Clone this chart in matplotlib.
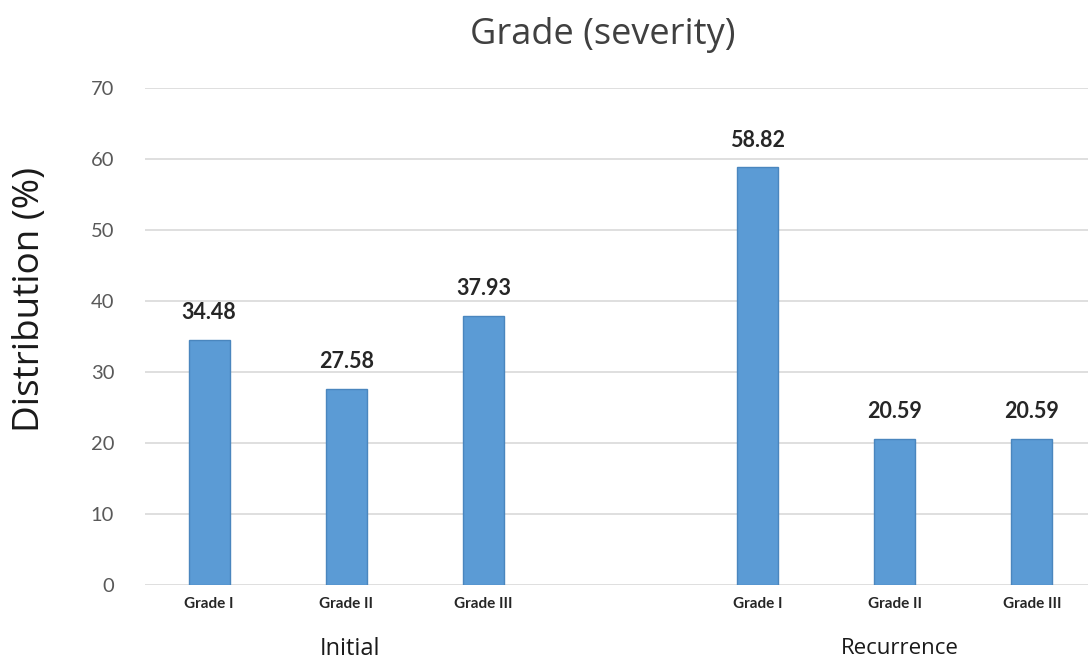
import matplotlib.pyplot as plt
from matplotlib.transforms import blended_transform_factory

# =====================================================
# Data
# =====================================================

groups = ["Initial", "Recurrence"]

grades = ["Grade I", "Grade II", "Grade III"]

initial_values = [34.48, 27.58, 37.93]

recurrence_values = [58.82, 20.59, 20.59]

# =====================================================
# Layout
# =====================================================

plt.rcParams["font.family"] = ["Lato", "DejaVu Sans"]

label_font = ["Open Sans", "DejaVu Sans"]

fig = plt.figure(figsize=(10.88, 6.61), dpi=100)

ax = fig.add_axes([0.133, 0.115, 0.867, 0.752])

bar_color = "#5B9BD5"
edge_color = "#4A86BE"

# one empty slot between the two groups
initial_x = [0, 1, 2]
recurrence_x = [4, 5, 6]

positions = initial_x + recurrence_x
values = initial_values + recurrence_values

bars = ax.bar(
    positions,
    values,
    width=0.3,
    color=bar_color,
    edgecolor=edge_color,
    linewidth=1,
    zorder=3
)

for x, v in zip(positions, values):
    ax.annotate(
        f"{v:.2f}",
        xy=(x, v),
        xytext=(0, 12),
        textcoords="offset points",
        ha="center",
        va="bottom",
        fontsize=15.5,
        fontweight="bold",
        color="#262626"
    )

# =====================================================
# Axes styling
# =====================================================

ax.set_xlim(-0.47, 6.41)
ax.set_ylim(0, 70)

ax.set_yticks(range(0, 71, 10))
ax.tick_params(axis="y", length=0, pad=22, labelsize=14.5, labelcolor="#595959")

ax.set_xticks(positions)
ax.set_xticklabels(grades * 2, fontsize=11, fontweight="bold", color="#262626")
ax.tick_params(axis="x", length=0, pad=9)

ax.grid(axis="y", color="#D9D9D9", linewidth=1.2, zorder=0)

for spine in ax.spines.values():
    spine.set_visible(False)

fig.text(30 / 1088, 1 - 300 / 661, "Distribution (%)", rotation=90,
         ha="center", va="center", fontsize=26.5, color="#1a1a1a",
         family=label_font)

fig.text(603 / 1088, 1 - 35 / 661, "Grade (severity)", ha="center", va="center",
         fontsize=26, color="#404040", family=label_font)

# group labels under the tick labels
trans = blended_transform_factory(ax.transData, ax.transAxes)

ax.text(1.03, -0.128, groups[0], transform=trans, ha="center", va="center",
        fontsize=17, color="#1a1a1a", family=label_font)

ax.text(5.04, -0.128, groups[1], transform=trans, ha="center", va="center",
        fontsize=16, color="#1a1a1a", family=label_font)

fig.savefig("out.png", dpi=100)
